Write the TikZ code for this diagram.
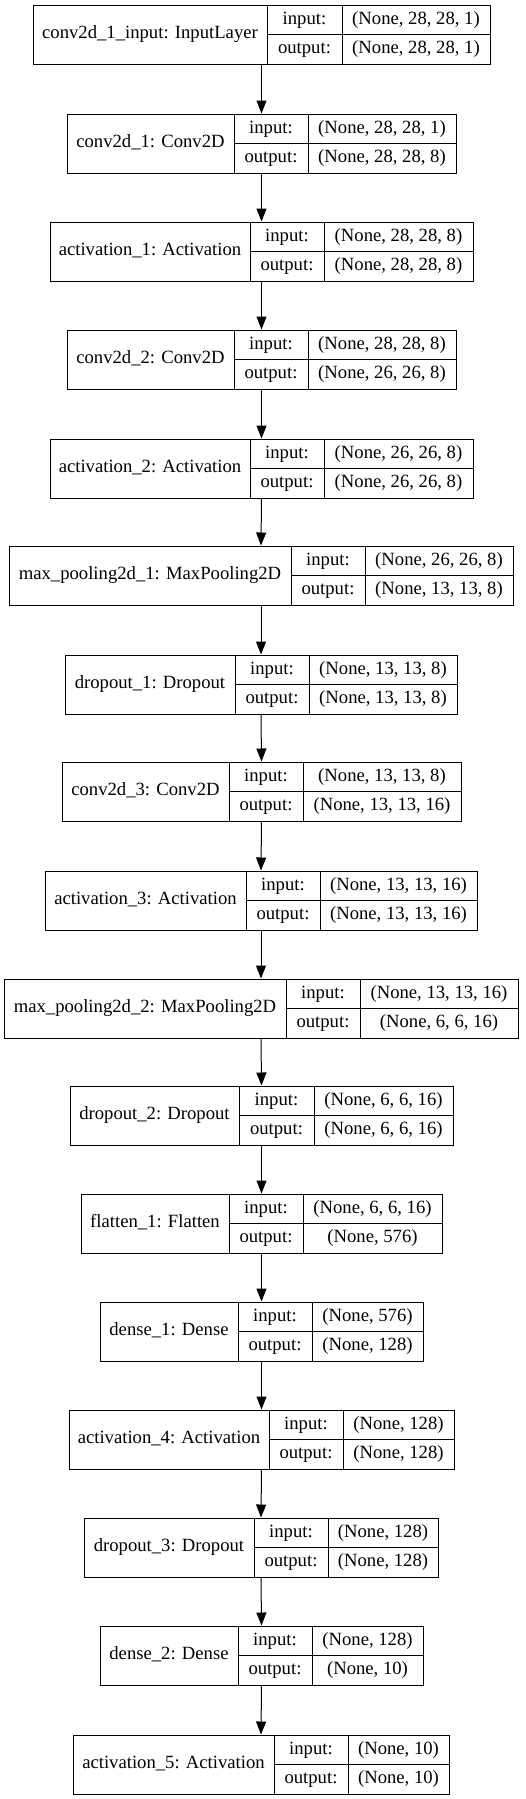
\documentclass[tikz,border=0pt]{standalone}
\usepackage{fontspec}
\setmainfont{Liberation Serif}
\usetikzlibrary{arrows.meta,fit}
\tikzset{
  boxline/.style={draw=black,line width=0.75pt},
  layerbox/.style={boxline,inner sep=0pt},
  txt/.style={inner sep=0pt,font=\fontsize{14pt}{16pt}\selectfont,text=black,text height=9.6pt,text depth=3pt},
  arr/.style={draw=black,line width=0.75pt,-{Triangle[length=9.75pt,width=7.5pt]}}
}
\newcommand{\kerasLayer}[9]{%
  \coordinate (#1nw) at (#3,#2);
  \coordinate (#1se) at (#6,#2+59);
  \node[layerbox,fit=(#1nw)(#1se)] (#1) {};
  \draw[boxline] (#4,#2) -- (#4,#2+59);
  \draw[boxline] (#5,#2) -- (#5,#2+59);
  \draw[boxline] (#4,#2+29.5) -- (#6,#2+29.5);
  \node[txt] (#1l) at ({(#3+#4)/2},#2+29.5) {#7};
  \node[txt] (#1i) at ({(#4+#5)/2},#2+14.75) {input:};
  \node[txt] (#1o) at ({(#4+#5)/2},#2+44.25) {output:};
  \node[txt] (#1a) at ({(#5+#6)/2},#2+14.75) {#8};
  \node[txt] (#1b) at ({(#5+#6)/2},#2+44.25) {#9};
}
\begin{document}
\begin{tikzpicture}[x=0.75pt,y=-0.75pt]
\useasboundingbox (0,0) rectangle (525,1799);
\kerasLayer{b1}{5}{33}{267}{342}{490}{conv2d\_1\_input: InputLayer}{(None, 28, 28, 1)}{(None, 28, 28, 1)}
\kerasLayer{b2}{114}{67}{234}{308}{456}{conv2d\_1: Conv2D}{(None, 28, 28, 1)}{(None, 28, 28, 8)}
\kerasLayer{b3}{222}{50}{250}{324}{473}{activation\_1: Activation}{(None, 28, 28, 8)}{(None, 28, 28, 8)}
\kerasLayer{b4}{330}{67}{234}{308}{456}{conv2d\_2: Conv2D}{(None, 28, 28, 8)}{(None, 26, 26, 8)}
\kerasLayer{b5}{439}{50}{250}{324}{473}{activation\_2: Activation}{(None, 26, 26, 8)}{(None, 26, 26, 8)}
\kerasLayer{b6}{546}{9}{291}{365}{513}{max\_pooling2d\_1: MaxPooling2D}{(None, 26, 26, 8)}{(None, 13, 13, 8)}
\kerasLayer{b7}{655}{65}{235}{309}{457}{dropout\_1: Dropout}{(None, 13, 13, 8)}{(None, 13, 13, 8)}
\kerasLayer{b8}{762}{62}{229}{303}{461}{conv2d\_3: Conv2D}{(None, 13, 13, 8)}{(None, 13, 13, 16)}
\kerasLayer{b9}{871}{45}{246}{320}{477}{activation\_3: Activation}{(None, 13, 13, 16)}{(None, 13, 13, 16)}
\kerasLayer{b10}{979}{4}{286}{360}{518}{max\_pooling2d\_2: MaxPooling2D}{(None, 13, 13, 16)}{(None, 6, 6, 16)}
\kerasLayer{b11}{1086}{70}{239}{314}{453}{dropout\_2: Dropout}{(None, 6, 6, 16)}{(None, 6, 6, 16)}
\kerasLayer{b12}{1194}{81}{229}{303}{442}{flatten\_1: Flatten}{(None, 6, 6, 16)}{(None, 576)}
\kerasLayer{b13}{1302}{100}{238}{312}{423}{dense\_1: Dense}{(None, 576)}{(None, 128)}
\kerasLayer{b14}{1410}{69}{269}{343}{454}{activation\_4: Activation}{(None, 128)}{(None, 128)}
\kerasLayer{b15}{1518}{84}{254}{328}{438}{dropout\_3: Dropout}{(None, 128)}{(None, 128)}
\kerasLayer{b16}{1626}{100}{238}{312}{423}{dense\_2: Dense}{(None, 128)}{(None, 10)}
\kerasLayer{b17}{1735}{73}{274}{348}{449}{activation\_5: Activation}{(None, 10)}{(None, 10)}
\foreach \a/\b in {b1/b2,b2/b3,b3/b4,b4/b5,b5/b6,b6/b7,b7/b8,b8/b9,b9/b10,b10/b11,b11/b12,b12/b13,b13/b14,b14/b15,b15/b16,b16/b17}
  \draw[arr] (\a.south) -- (\b.north);
\end{tikzpicture}
\end{document}
